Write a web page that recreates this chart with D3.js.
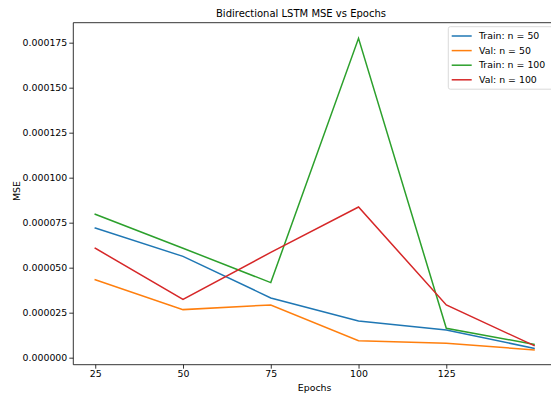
<!DOCTYPE html>
<html>
<head>
<meta charset="utf-8">
<script src="https://cdn.jsdelivr.net/npm/d3@7"></script>
<style>
  body { margin: 0; background: #fff; }
  svg { display: block; font-family: "DejaVu Sans", sans-serif; }
</style>
</head>
<body>
<svg id="chart" width="551" height="398"></svg>
<script>
// Data
const epochs = [25, 50, 75, 100, 125, 150];
const trainN50 = [7.2e-5, 5.63e-5, 3.32e-5, 2.04e-5, 1.54e-5, 5.2e-6];
const valN50 = [4.33e-5, 2.67e-5, 2.93e-5, 9.4e-6, 8.0e-6, 4.3e-6];
const trainN100 = [7.97e-5, 6.08e-5, 4.17e-5, 1.774e-4, 1.63e-5, 7.4e-6];
const valN100 = [6.08e-5, 3.24e-5, 5.85e-5, 8.37e-5, 2.93e-5, 6.7e-6];
const seriesNames = ['Train: n = 50', 'Val: n = 50', 'Train: n = 100', 'Val: n = 100'];
const seriesColors = ['#1f77b4', '#ff7f0e', '#2ca02c', '#d62728'];
const xTicks = [25, 50, 75, 100, 125];
const yTicks = [0, 2.5e-5, 5e-5, 7.5e-5, 1e-4, 1.25e-4, 1.5e-4, 1.75e-4];

const series = [trainN50, valN50, trainN100, valN100].map((values, i) => ({
  name: seriesNames[i],
  color: seriesColors[i],
  values: values
}));

const svg = d3.select('#chart');
const plot = { left: 73.3, right: 556, top: 22.7, bottom: 364.7 };
const fontSize = '9.4px';

const x = d3.scaleLinear().domain([18.75, 156.25]).range([plot.left, plot.right]);
const y = d3.scaleLinear().domain([-3.9e-6, 1.861e-4]).range([plot.bottom, plot.top]);

// Lines
const line = d3.line()
  .x((d, i) => x(epochs[i]))
  .y(d => y(d));

svg.append('g')
  .selectAll('path')
  .data(series)
  .join('path')
  .attr('d', d => line(d.values))
  .attr('fill', 'none')
  .attr('stroke', d => d.color)
  .attr('stroke-width', 1.5)
  .attr('stroke-linejoin', 'miter')
  .attr('stroke-linecap', 'square');

// Axes
const xAxis = svg.append('g')
  .attr('transform', `translate(0,${plot.bottom})`)
  .call(d3.axisBottom(x).tickValues(xTicks).tickSize(4).tickPadding(2).tickSizeOuter(0));
const yAxis = svg.append('g')
  .attr('transform', `translate(${plot.left},0)`)
  .call(d3.axisLeft(y).tickValues(yTicks).tickFormat(d3.format('.6f')).tickSize(4).tickPadding(2).tickSizeOuter(0));

[xAxis, yAxis].forEach(g => {
  g.select('.domain').remove();
  g.selectAll('line').attr('stroke', '#000').attr('stroke-width', 0.8);
  g.selectAll('text')
    .attr('fill', '#000')
    .style('font-family', '"DejaVu Sans", sans-serif')
    .style('font-size', fontSize);
});

// Spines
svg.append('path')
  .attr('d', `M${plot.left},${plot.top}V${plot.bottom}H${plot.right}V${plot.top}Z`)
  .attr('stroke', '#000')
  .attr('stroke-width', 0.8)
  .attr('fill', 'none');

// Title and axis labels
svg.append('text')
  .attr('x', 301)
  .attr('y', 17)
  .attr('text-anchor', 'middle')
  .style('font-size', '10px')
  .text('Bidirectional LSTM MSE vs Epochs');

svg.append('text')
  .attr('x', (plot.left + plot.right) / 2)
  .attr('y', 391)
  .attr('text-anchor', 'middle')
  .style('font-size', fontSize)
  .text('Epochs');

svg.append('text')
  .attr('transform', `translate(20,191) rotate(-90)`)
  .attr('text-anchor', 'middle')
  .style('font-size', fontSize)
  .text('MSE');

// Legend
const legend = svg.append('g').attr('transform', 'translate(448.3,26.7)');
legend.append('rect')
  .attr('width', 110)
  .attr('height', 62.5)
  .attr('rx', 2)
  .attr('fill', '#fff')
  .attr('fill-opacity', 0.8)
  .attr('stroke', '#d0d0d0')
  .attr('stroke-width', 0.8);

const items = legend.selectAll('g.item')
  .data(series)
  .join('g')
  .attr('class', 'item')
  .attr('transform', (d, i) => `translate(0,${9.3 + i * 14.6})`);
items.append('line')
  .attr('x1', 3.4).attr('x2', 23.4)
  .attr('stroke', d => d.color)
  .attr('stroke-width', 1.5);
items.append('text')
  .attr('x', 30.7)
  .attr('dy', '0.35em')
  .style('font-size', fontSize)
  .text(d => d.name);
</script>
</body>
</html>
